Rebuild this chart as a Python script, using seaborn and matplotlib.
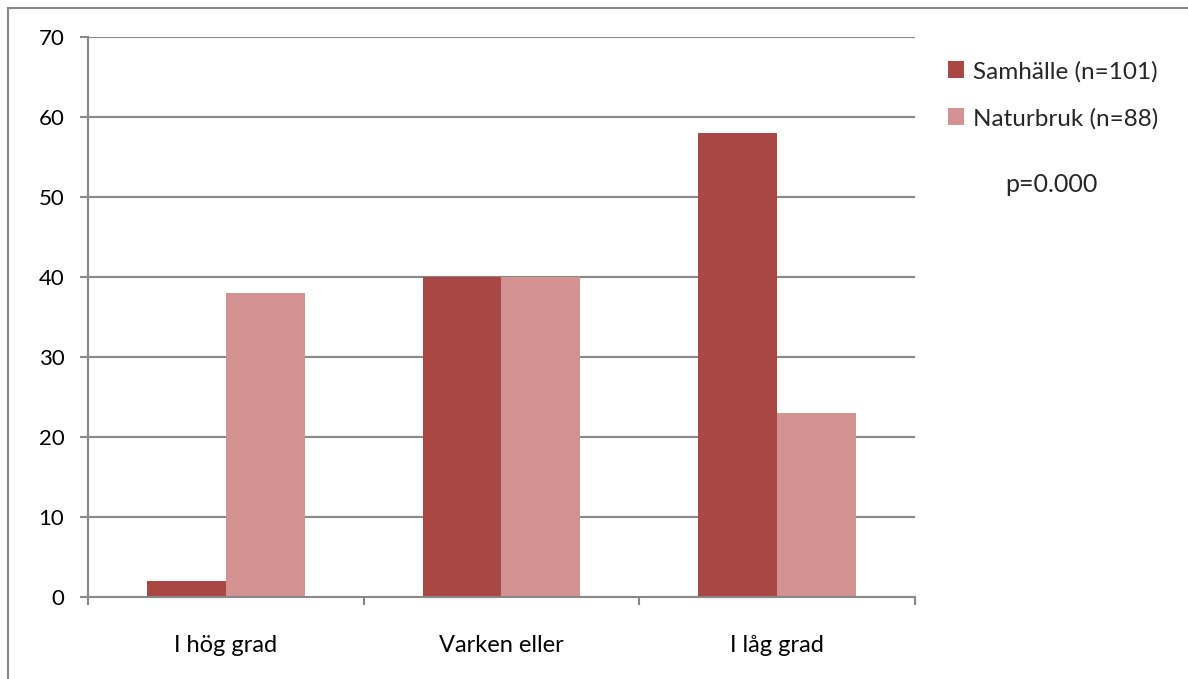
import matplotlib
matplotlib.use("Agg")
import matplotlib.pyplot as plt
from matplotlib.patches import Rectangle, Patch
import seaborn as sns
import pandas as pd

categories = ["I hög grad", "Varken eller", "I låg grad"]
groups = ["Samhälle (n=101)", "Naturbruk (n=88)"]
samhalle = [2, 40, 58]
naturbruk = [38, 40, 23]
y_ticks = [0, 10, 20, 30, 40, 50, 60, 70]
p_text = "p=0.000"

colors = ["#A94744", "#D39292"]
grid_col = "#878787"

sns.set_theme(style="white")
plt.rcParams["font.family"] = ["Lato", "DejaVu Sans"]

df = pd.DataFrame({
    "kategori": categories * 2,
    "grupp": [groups[0]] * 3 + [groups[1]] * 3,
    "andel": samhalle + naturbruk,
})

W, H = 1188, 679
fig = plt.figure(figsize=(W / 100, H / 100), dpi=100)
ax = fig.add_axes([88 / W, 1 - 597 / H, (915 - 88) / W, (597 - 37) / H])

sns.barplot(data=df, x="kategori", y="andel", hue="grupp", order=categories,
            hue_order=groups, palette=colors, width=0.572, saturation=1,
            edgecolor="none", linewidth=0, ax=ax, legend=False, zorder=3)

ax.set_xlim(-0.5, 2.5)
ax.set_ylim(0, 70)
ax.set_yticks(y_ticks)
ax.set_yticklabels([str(v) for v in y_ticks], fontsize=16, color="#000000")
ax.set_xlabel("")
ax.set_ylabel("")

# horizontal gridlines
for v in y_ticks[1:]:
    ax.axhline(v, color=grid_col, lw=1.5, zorder=1)

for s in ["top", "right"]:
    ax.spines[s].set_visible(False)
for s in ["left", "bottom"]:
    ax.spines[s].set_color(grid_col)
    ax.spines[s].set_linewidth(1.5)
    ax.spines[s].set_zorder(4)

ax.tick_params(axis="y", which="both", left=True, length=6, width=1.5,
               color=grid_col, pad=11)

# category boundary ticks below the axis, labels centred in each category
ax.set_xticks([-0.5, 0.5, 1.5, 2.5], minor=False)
ax.set_xticklabels([])
ax.set_xticks([0, 1, 2], minor=True)
ax.set_xticklabels(categories, minor=True, fontsize=17, color="#000000")
ax.tick_params(axis="x", which="major", bottom=True, length=6, width=1.5,
               color=grid_col)
ax.tick_params(axis="x", which="minor", bottom=False, length=0, pad=27)

# legend on the right
handles = [Patch(facecolor=c, edgecolor="none") for c in colors]
fig.legend(handles, groups, loc="upper left",
           bbox_to_anchor=(938 / W, 1 - 51 / H), frameon=False,
           fontsize=17.5, handlelength=0.67, handleheight=0.67,
           handletextpad=0.35, labelspacing=1.05, borderaxespad=0)

fig.text(1051 / W, 1 - 185 / H, p_text, fontsize=18, ha="center", va="center")

# outer chart frame
fig.patches.append(Rectangle((8 / W, -0.1), 1.2, 1 - 8 / H + 0.1,
                             transform=fig.transFigure, fill=False,
                             edgecolor=grid_col, lw=1.5, zorder=0))

fig.savefig("out.png", dpi=100)
